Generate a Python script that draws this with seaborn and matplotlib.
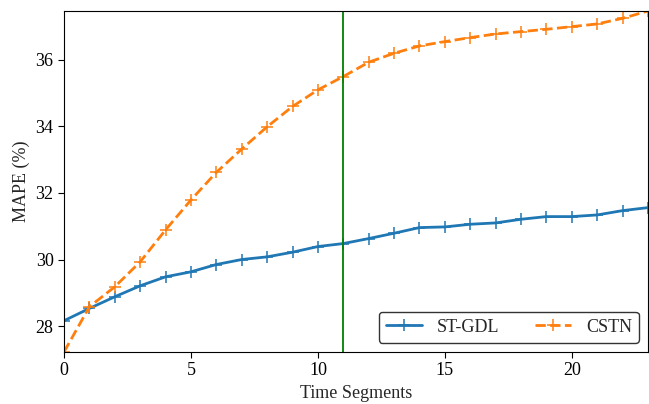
import matplotlib
matplotlib.use("Agg")
import matplotlib.pyplot as plt
import seaborn as sns
import pandas as pd

segments = list(range(24))
st_gdl = [28.16, 28.53, 28.88, 29.21, 29.48, 29.63, 29.85, 30.00, 30.08, 30.22,
          30.39, 30.48, 30.63, 30.79, 30.96, 30.98, 31.06, 31.10, 31.21, 31.29,
          31.29, 31.34, 31.47, 31.56]
cstn = [27.22, 28.58, 29.18, 29.93, 30.89, 31.79, 32.62, 33.32, 33.99, 34.60,
        35.10, 35.50, 35.93, 36.20, 36.42, 36.55, 36.67, 36.78, 36.85, 36.92,
        37.00, 37.08, 37.25, 37.47]
split_at = 11

sns.set_style("ticks")
plt.rcParams["font.family"] = ["Liberation Serif", "DejaVu Serif"]
plt.rcParams["font.size"] = 13

df = pd.DataFrame({"seg": segments, "ST-GDL": st_gdl, "CSTN": cstn})

fig = plt.figure(figsize=(6.49, 4.04), dpi=100)
ax = fig.add_axes([0.0986, 0.1287, 0.8999, 0.8441])

blue, orange = sns.color_palette("tab10")[:2]
sns.lineplot(data=df, x="seg", y="ST-GDL", ax=ax, color=blue, lw=2,
             marker="+", markersize=8, markeredgewidth=1.1,
             markeredgecolor=blue, label="ST-GDL")
sns.lineplot(data=df, x="seg", y="CSTN", ax=ax, color=orange, lw=2,
             linestyle="--", marker="+", markersize=8, markeredgewidth=1.1,
             markeredgecolor=orange, label="CSTN")
ax.axvline(split_at, color="green", lw=1.3)

ax.set_xlim(min(segments), max(segments))
ax.set_ylim(min(cstn), max(cstn))
ax.set_xticks([0, 5, 10, 15, 20])
ax.set_yticks([28, 30, 32, 34, 36])
ax.set_xlabel("Time Segments", fontsize=13)
ax.set_ylabel("MAPE (%)", fontsize=13)
for s in ax.spines.values():
    s.set_visible(True)
    s.set_color("black")
ax.tick_params(colors="black", length=4, labelsize=13)

leg = ax.legend(loc="lower right", ncol=2, frameon=True, fancybox=True,
                framealpha=1, edgecolor="#333333", fontsize=13)

fig.savefig("out.png", dpi=100)
